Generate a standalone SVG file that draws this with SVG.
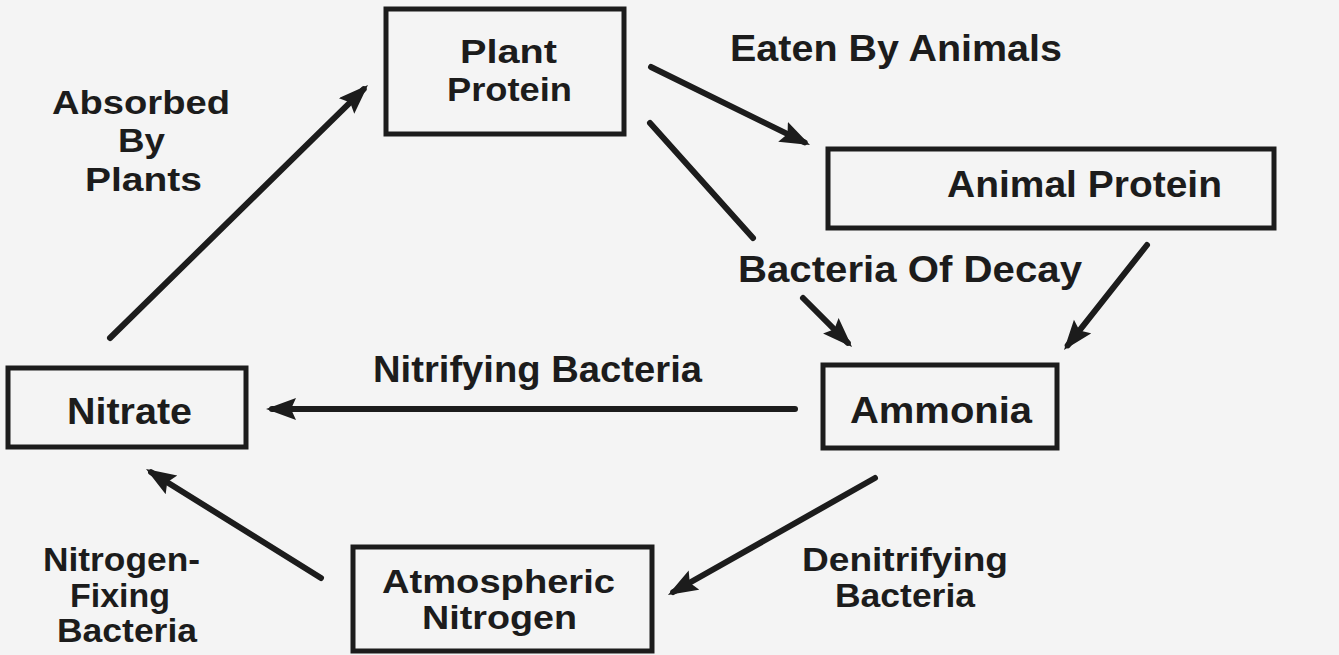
<svg xmlns="http://www.w3.org/2000/svg" width="1339" height="655" viewBox="0 0 1339 655">
<style>
  .box{fill:none;stroke:#1c1c1c;stroke-width:5}
  .lbl{font-family:"Liberation Sans",Arial,sans-serif;font-weight:bold;font-size:37px;fill:#1c1c1c}
  .sm{font-size:34px}
  .edge{stroke:#1c1c1c;stroke-width:6;stroke-linecap:round;fill:none}
  .arr{marker-end:url(#ah)}
</style>
<defs>
  <marker id="ah" markerUnits="userSpaceOnUse" markerWidth="32" markerHeight="24" refX="24" refY="11" orient="auto">
    <path d="M0,0 L30,11 L0,22 L5,11 Z" fill="#1c1c1c"/>
  </marker>
</defs>
<rect x="0" y="0" width="1339" height="655" fill="#f4f4f4"/>

<g id="connectors">
  <line class="edge arr" x1="651" y1="67" x2="804.6" y2="142.4"/>
  <line class="edge" x1="650" y1="123" x2="753" y2="238"/>
  <line class="edge arr" x1="803" y1="298" x2="847.8" y2="342.8"/>
  <line class="edge arr" x1="1147" y1="245" x2="1067.7" y2="345.3"/>
  <line class="edge arr" x1="795" y1="409" x2="272" y2="409"/>
  <line class="edge arr" x1="875" y1="478" x2="673.2" y2="592"/>
  <line class="edge arr" x1="321" y1="578" x2="151.1" y2="472.2"/>
  <line class="edge arr" x1="110" y1="338" x2="363.7" y2="89.2"/>
</g>

<g id="plant-protein">
  <rect class="box" x="386" y="9" width="238" height="125"/>
  <text class="lbl sm" x="460" y="63" textLength="97" lengthAdjust="spacingAndGlyphs">Plant</text>
  <text class="lbl sm" x="447" y="101" textLength="125" lengthAdjust="spacingAndGlyphs">Protein</text>
</g>

<g id="animal-protein">
  <rect class="box" x="828" y="149" width="446" height="79"/>
  <text class="lbl" x="947" y="197" textLength="275" lengthAdjust="spacingAndGlyphs">Animal Protein</text>
</g>

<g id="ammonia">
  <rect class="box" x="823" y="365" width="234" height="83"/>
  <text class="lbl" x="850" y="423" textLength="182" lengthAdjust="spacingAndGlyphs">Ammonia</text>
</g>

<g id="nitrate">
  <rect class="box" x="8" y="368" width="238" height="79"/>
  <text class="lbl" x="67" y="424" textLength="125" lengthAdjust="spacingAndGlyphs">Nitrate</text>
</g>

<g id="atmospheric-nitrogen">
  <rect class="box" x="353" y="547" width="299" height="104"/>
  <text class="lbl sm" x="382" y="593" textLength="233" lengthAdjust="spacingAndGlyphs">Atmospheric</text>
  <text class="lbl sm" x="422" y="629" textLength="155" lengthAdjust="spacingAndGlyphs">Nitrogen</text>
</g>

<g id="labels">
  <text class="lbl" x="730" y="61" textLength="332" lengthAdjust="spacingAndGlyphs">Eaten By Animals</text>
  <text class="lbl" x="738" y="282" textLength="344" lengthAdjust="spacingAndGlyphs">Bacteria Of Decay</text>
  <text class="lbl" x="373" y="382" textLength="329" lengthAdjust="spacingAndGlyphs">Nitrifying Bacteria</text>
  <text class="lbl sm" x="52" y="114" textLength="178" lengthAdjust="spacingAndGlyphs">Absorbed</text>
  <text class="lbl sm" x="118" y="152" textLength="47" lengthAdjust="spacingAndGlyphs">By</text>
  <text class="lbl sm" x="85" y="191" textLength="117" lengthAdjust="spacingAndGlyphs">Plants</text>
  <text class="lbl sm" x="43" y="571" textLength="157" lengthAdjust="spacingAndGlyphs">Nitrogen-</text>
  <text class="lbl sm" x="70" y="607" textLength="100" lengthAdjust="spacingAndGlyphs">Fixing</text>
  <text class="lbl sm" x="57" y="642" textLength="140" lengthAdjust="spacingAndGlyphs">Bacteria</text>
  <text class="lbl sm" x="802" y="571" textLength="206" lengthAdjust="spacingAndGlyphs">Denitrifying</text>
  <text class="lbl sm" x="835" y="607" textLength="140" lengthAdjust="spacingAndGlyphs">Bacteria</text>
</g>
</svg>
